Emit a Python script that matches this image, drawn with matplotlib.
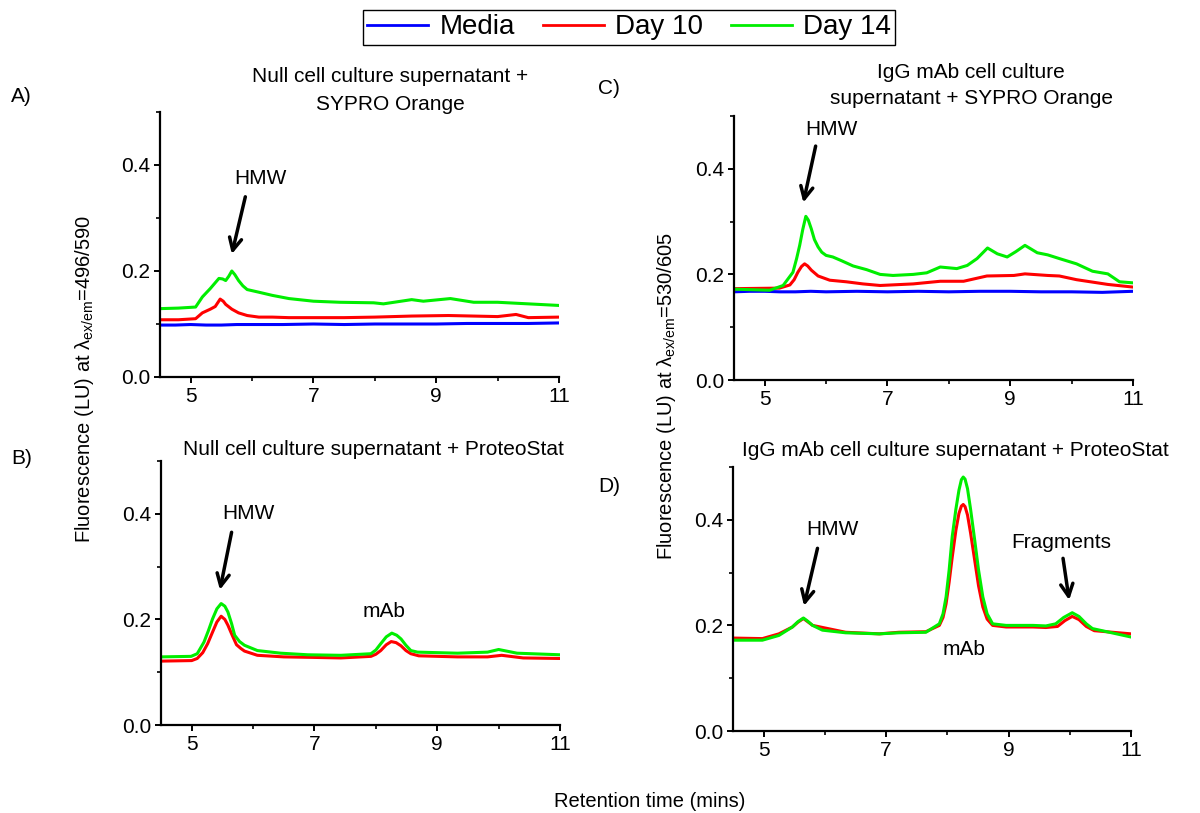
import matplotlib
matplotlib.use("Agg")
import matplotlib.pyplot as plt
from matplotlib.lines import Line2D
from matplotlib.ticker import MultipleLocator

plt.rcParams['font.family'] = ['Liberation Sans', 'DejaVu Sans']
plt.rcParams['mathtext.fontset'] = 'custom'
plt.rcParams['mathtext.rm'] = 'Liberation Sans'
plt.rcParams['mathtext.it'] = 'Liberation Sans'

# ---------------- data (retention time in mins, fluorescence in LU) ----------------
# A) Null cell culture supernatant + SYPRO Orange
a_media_x = [4.5, 4.75, 5.0, 5.25, 5.5, 5.75, 6.0, 6.5, 7.0, 7.5, 8.0, 8.5, 9.0, 9.5, 10.0, 10.5, 11.0]
a_media_y = [0.098, 0.098, 0.099, 0.098, 0.098, 0.099, 0.099, 0.099, 0.100, 0.099, 0.100, 0.100,
             0.100, 0.101, 0.101, 0.101, 0.102]
a_day10_x = [4.5, 4.8, 5.08, 5.19, 5.32, 5.40, 5.44, 5.48, 5.53, 5.57, 5.67, 5.78, 5.92, 6.11, 6.33,
             6.6, 7.0, 7.5, 8.0, 8.6, 9.2, 9.6, 10.0, 10.3, 10.5, 11.0]
a_day10_y = [0.108, 0.108, 0.110, 0.121, 0.128, 0.133, 0.140, 0.147, 0.143, 0.137, 0.128, 0.121,
             0.116, 0.113, 0.113, 0.112, 0.112, 0.112, 0.113, 0.115, 0.116, 0.115, 0.114, 0.118,
             0.112, 0.113]
a_day14_x = [4.5, 4.8, 5.08, 5.19, 5.32, 5.46, 5.52, 5.57, 5.62, 5.67, 5.72, 5.78, 5.85, 5.92, 6.11,
             6.33, 6.6, 7.0, 7.43, 7.98, 8.14, 8.6, 8.79, 9.23, 9.61, 10.0, 10.5, 11.0]
a_day14_y = [0.129, 0.130, 0.132, 0.151, 0.167, 0.186, 0.185, 0.182, 0.190, 0.200, 0.193, 0.182,
             0.172, 0.165, 0.160, 0.154, 0.148, 0.143, 0.141, 0.140, 0.138, 0.146, 0.143, 0.148,
             0.141, 0.141, 0.138, 0.135]

# B) Null cell culture supernatant + ProteoStat
b_day10_x = [4.5, 5.0, 5.09, 5.18, 5.26, 5.34, 5.41, 5.48, 5.54, 5.59, 5.66, 5.73, 5.8, 5.86, 6.07,
             6.5, 7.0, 7.43, 7.92, 8.0, 8.08, 8.17, 8.25, 8.33, 8.41, 8.49, 8.57, 8.7, 9.33, 9.82,
             10.05, 10.4, 11.0]
b_day10_y = [0.121, 0.122, 0.126, 0.137, 0.154, 0.176, 0.195, 0.206, 0.200, 0.189, 0.170, 0.152,
             0.145, 0.140, 0.132, 0.129, 0.128, 0.127, 0.130, 0.134, 0.141, 0.152, 0.158, 0.156,
             0.150, 0.141, 0.135, 0.131, 0.129, 0.129, 0.132, 0.127, 0.126]
b_day14_x = [4.5, 4.99, 5.09, 5.2, 5.27, 5.34, 5.41, 5.48, 5.54, 5.59, 5.65, 5.7, 5.78, 5.86, 6.07,
             6.45, 6.89, 7.43, 7.92, 8.0, 8.08, 8.17, 8.26, 8.34, 8.41, 8.49, 8.57, 8.68, 9.33,
             9.82, 10.0, 10.3, 11.0]
b_day14_y = [0.129, 0.130, 0.135, 0.157, 0.178, 0.201, 0.220, 0.230, 0.225, 0.214, 0.192, 0.170,
             0.158, 0.151, 0.141, 0.136, 0.133, 0.132, 0.135, 0.142, 0.154, 0.167, 0.174, 0.170,
             0.163, 0.151, 0.141, 0.138, 0.136, 0.138, 0.143, 0.136, 0.133]

# C) IgG mAb cell culture supernatant + SYPRO Orange
c_media_x = [4.5, 4.75, 5.0, 5.25, 5.5, 5.75, 6.0, 6.5, 7.0, 7.5, 8.0, 8.5, 9.0, 9.5, 10.0, 10.5, 11.0]
c_media_y = [0.167, 0.168, 0.168, 0.167, 0.167, 0.168, 0.167, 0.168, 0.167, 0.168, 0.167, 0.168,
             0.168, 0.167, 0.167, 0.166, 0.168]
c_day10_x = [4.5, 5.24, 5.41, 5.48, 5.54, 5.6, 5.65, 5.7, 5.76, 5.87, 6.06, 6.33, 6.6, 6.88, 7.42,
             7.86, 8.24, 8.62, 9.06, 9.24, 9.61, 9.8, 10.08, 10.59, 11.0]
c_day10_y = [0.173, 0.174, 0.180, 0.190, 0.204, 0.215, 0.220, 0.216, 0.208, 0.197, 0.189, 0.186,
             0.182, 0.179, 0.182, 0.187, 0.187, 0.197, 0.198, 0.201, 0.198, 0.197, 0.190, 0.181,
             0.176]
c_day14_x = [4.5, 5.08, 5.3, 5.46, 5.52, 5.57, 5.62, 5.67, 5.71, 5.76, 5.81, 5.87, 5.93, 6.0, 6.11,
             6.25, 6.44, 6.66, 6.88, 7.09, 7.42, 7.64, 7.86, 8.13, 8.3, 8.46, 8.63, 8.79, 8.95,
             9.09, 9.24, 9.44, 9.61, 9.8, 10.08, 10.34, 10.59, 10.78, 11.0]
c_day14_y = [0.172, 0.170, 0.179, 0.204, 0.230, 0.255, 0.285, 0.310, 0.303, 0.286, 0.266, 0.252,
             0.242, 0.236, 0.233, 0.226, 0.216, 0.209, 0.200, 0.198, 0.200, 0.203, 0.214, 0.211,
             0.217, 0.230, 0.250, 0.239, 0.233, 0.243, 0.255, 0.241, 0.237, 0.230, 0.220, 0.206,
             0.201, 0.186, 0.184]

# D) IgG mAb cell culture supernatant + ProteoStat
d_day10_x = [4.5, 4.98, 5.25, 5.47, 5.56, 5.65, 5.72, 5.8, 6.34, 6.89, 7.21, 7.65, 7.87, 7.93, 7.98,
             8.03, 8.08, 8.14, 8.19, 8.23, 8.26, 8.29, 8.33, 8.38, 8.44, 8.51, 8.58, 8.65, 8.74,
             8.96, 9.4, 9.61, 9.8, 9.92, 10.04, 10.15, 10.27, 10.4, 11.0]
d_day10_y = [0.176, 0.175, 0.184, 0.197, 0.206, 0.213, 0.207, 0.200, 0.187, 0.184, 0.187, 0.188,
             0.200, 0.215, 0.241, 0.282, 0.329, 0.380, 0.412, 0.426, 0.429, 0.425, 0.409, 0.375,
             0.329, 0.275, 0.235, 0.212, 0.200, 0.197, 0.197, 0.196, 0.198, 0.209, 0.217, 0.211,
             0.198, 0.190, 0.184]
d_day14_x = [4.5, 4.98, 5.25, 5.47, 5.56, 5.65, 5.72, 5.8, 5.96, 6.34, 6.89, 7.21, 7.65, 7.87, 7.93,
             7.98, 8.03, 8.08, 8.14, 8.19, 8.23, 8.26, 8.29, 8.33, 8.38, 8.44, 8.51, 8.58, 8.65,
             8.74, 8.96, 9.4, 9.61, 9.77, 9.9, 10.04, 10.15, 10.27, 10.37, 11.0]
d_day14_y = [0.172, 0.172, 0.181, 0.197, 0.207, 0.214, 0.208, 0.200, 0.191, 0.186, 0.184, 0.186,
             0.187, 0.203, 0.222, 0.254, 0.305, 0.368, 0.420, 0.456, 0.476, 0.481, 0.477, 0.459,
             0.420, 0.368, 0.305, 0.254, 0.222, 0.203, 0.200, 0.200, 0.199, 0.203, 0.215, 0.224,
             0.217, 0.203, 0.194, 0.178]

series_names = ['Media', 'Day 10', 'Day 14']
series_colors = ['#0000ff', '#ff0000', '#00ee00']

# ---------------- figure ----------------
fig = plt.figure(figsize=(12, 8.13), dpi=100)
W, H = 1200.0, 813.0


def box(left, top, right, bottom):
    return [left / W, 1 - bottom / H, (right - left) / W, (bottom - top) / H]


axA = fig.add_axes(box(160, 112, 559, 377))
axB = fig.add_axes(box(161, 461, 560, 725))
axC = fig.add_axes(box(734, 116, 1133, 380))
axD = fig.add_axes(box(733, 467, 1131, 731))

LW = 2.2
FS = 15
for ax in (axA, axB, axC, axD):
    ax.set_xlim(4.5, 11)
    ax.set_ylim(0, 0.5)
    ax.set_xticks([5, 7, 9, 11])
    ax.set_yticks([0.0, 0.2, 0.4])
    ax.set_yticklabels(['0.0', '0.2', '0.4'])
    ax.xaxis.set_minor_locator(MultipleLocator(1))
    ax.yaxis.set_minor_locator(MultipleLocator(0.1))
    ax.spines['top'].set_visible(False)
    ax.spines['right'].set_visible(False)
    ax.spines['left'].set_linewidth(1.6)
    ax.spines['bottom'].set_linewidth(1.6)
    ax.tick_params(which='major', direction='out', length=4, width=1.4, labelsize=FS, pad=3)
    ax.tick_params(which='minor', direction='out', length=3, width=1.2)
    ax.patch.set_visible(False)

# curves
axA.plot(a_media_x, a_media_y, color=series_colors[0], lw=LW)
axA.plot(a_day10_x, a_day10_y, color=series_colors[1], lw=LW)
axA.plot(a_day14_x, a_day14_y, color=series_colors[2], lw=LW)

axB.plot(b_day10_x, b_day10_y, color=series_colors[1], lw=LW)
axB.plot(b_day14_x, b_day14_y, color=series_colors[2], lw=LW)

axC.plot(c_media_x, c_media_y, color=series_colors[0], lw=LW)
axC.plot(c_day10_x, c_day10_y, color=series_colors[1], lw=LW)
axC.plot(c_day14_x, c_day14_y, color=series_colors[2], lw=LW)

axD.plot(d_day10_x, d_day10_y, color=series_colors[1], lw=LW)
axD.plot(d_day14_x, d_day14_y, color=series_colors[2], lw=LW)

# peak annotations
arrow = dict(arrowstyle='->', lw=2.5, color='black', mutation_scale=22, shrinkA=0, shrinkB=0)


def mark(ax, label, text_xy, tail, head):
    ax.text(text_xy[0], text_xy[1], label, ha='center', va='center', fontsize=FS)
    if head is not None:
        ax.annotate('', xy=head, xytext=tail, arrowprops=arrow)


mark(axA, 'HMW', (6.13, 0.375), (5.89, 0.340), (5.67, 0.232))
mark(axB, 'HMW', (5.92, 0.400), (5.65, 0.365), (5.46, 0.256))
mark(axB, 'mAb', (8.14, 0.215), None, None)
mark(axC, 'HMW', (6.08, 0.475), (5.83, 0.443), (5.63, 0.336))
mark(axD, 'HMW', (6.13, 0.382), (5.88, 0.346), (5.66, 0.237))
mark(axD, 'Fragments', (9.86, 0.357), (9.89, 0.327), (9.99, 0.248))
mark(axD, 'mAb', (8.28, 0.154), None, None)


# panel titles and labels (figure pixel coordinates)
def ftext(x, y, s, **kw):
    fig.text(x / W, 1 - y / H, s, **kw)


ftext(390, 76, 'Null cell culture supernatant +', ha='center', va='center', fontsize=FS)
ftext(390, 104, 'SYPRO Orange', ha='center', va='center', fontsize=FS)
ftext(971, 72, 'IgG mAb cell culture', ha='center', va='center', fontsize=FS)
ftext(971, 99, 'supernatant + SYPRO Orange', ha='center', va='center', fontsize=FS)
ftext(373, 449, 'Null cell culture supernatant + ProteoStat', ha='center', va='center', fontsize=FS)
ftext(955, 450, 'IgG mAb cell culture supernatant + ProteoStat', ha='center', va='center', fontsize=FS)

ftext(11, 97, 'A)', ha='left', va='center', fontsize=FS)
ftext(11, 458, 'B)', ha='left', va='center', fontsize=FS)
ftext(598, 89, 'C)', ha='left', va='center', fontsize=FS)
ftext(598, 486, 'D)', ha='left', va='center', fontsize=FS)

ftext(85, 379, r'Fluorescence (LU) at $\lambda_{\mathrm{ex/em}}$=496/590', rotation=90,
      ha='center', va='center', fontsize=14.5)
ftext(666, 396, r'Fluorescence (LU) at $\lambda_{\mathrm{ex/em}}$=530/605', rotation=90,
      ha='center', va='center', fontsize=14.5)
ftext(650, 801, 'Retention time (mins)', ha='center', va='center', fontsize=14.5)

# legend
handles = [Line2D([], [], color=c, lw=2) for c in series_colors]
leg = fig.legend(handles, series_names, loc='center', bbox_to_anchor=(629 / W, 1 - 27.5 / H),
                 ncol=3, fontsize=20, frameon=True, fancybox=False, edgecolor='black',
                 framealpha=1, handlelength=2.2, handletextpad=0.4, columnspacing=1.0,
                 borderpad=0.15, borderaxespad=0)
leg.get_frame().set_linewidth(1.0)

fig.savefig('out.png', dpi=100)
